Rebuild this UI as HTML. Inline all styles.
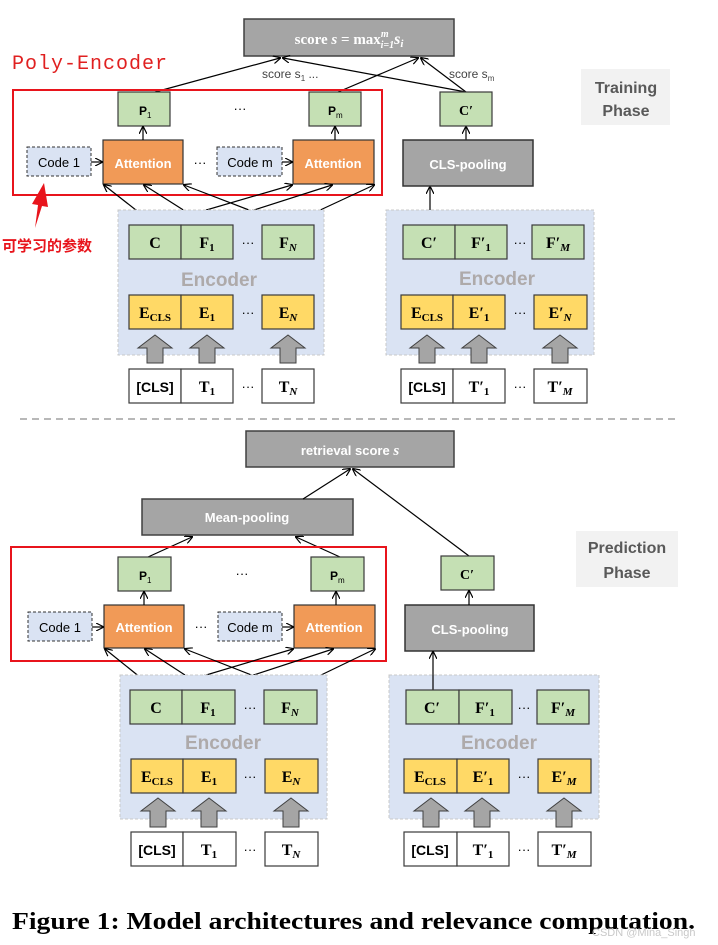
<!DOCTYPE html>
<html><head><meta charset="utf-8"><style>
html,body{margin:0;padding:0;background:#fff}
svg{display:block}
.b{font-family:"Liberation Sans",sans-serif;font-weight:bold}
.s{font-family:"Liberation Serif",serif;font-weight:bold}
</style></head><body>
<svg width="718" height="945" viewBox="0 0 718 945" xmlns="http://www.w3.org/2000/svg">
<defs>
<marker id="a" markerWidth="8" markerHeight="8" refX="7" refY="4" orient="auto" markerUnits="userSpaceOnUse"><path d="M0,0 L8,4 L0,8" fill="none" stroke="#000" stroke-width="1.2"/></marker>
</defs>

<!-- ===== TOP ===== -->
<rect x="244" y="19" width="210" height="37" fill="#a5a5a5" stroke="#404040" stroke-width="1.5"/>
<text x="349" y="44" text-anchor="middle" fill="#fff" class="s" font-size="15">score <tspan font-style="italic">s</tspan> = max<tspan font-size="10" dy="-7" font-style="italic">m</tspan><tspan font-size="10" dx="-8" dy="11" font-style="italic">i=1</tspan><tspan dy="-4" font-style="italic" font-size="16">s<tspan font-size="11" dy="3">i</tspan></tspan></text>
<text x="12" y="69" fill="#e02020" font-family="Liberation Mono,monospace" font-size="20" letter-spacing="1">Poly-Encoder</text>
<text x="262" y="78" font-family="Liberation Sans,sans-serif" font-size="12" fill="#444">score s<tspan font-size="8" dy="3">1</tspan><tspan dy="-3"> ...</tspan></text>
<text x="449" y="78" font-family="Liberation Sans,sans-serif" font-size="12" fill="#444">score s<tspan font-size="8" dy="3">m</tspan></text>
<rect x="581" y="69" width="89" height="56" fill="#f2f2f2"/>
<text x="626" y="93" text-anchor="middle" class="b" font-size="16" fill="#595959">Training</text>
<text x="626" y="116" text-anchor="middle" class="b" font-size="16" fill="#595959">Phase</text>
<g stroke="#000" stroke-width="1.2" fill="none">
<line x1="155" y1="92" x2="280" y2="58" marker-end="url(#a)"/>
<line x1="466" y1="92" x2="283" y2="58" marker-end="url(#a)"/>
<line x1="338" y1="92" x2="418" y2="58" marker-end="url(#a)"/>
<line x1="466" y1="92" x2="421" y2="58" marker-end="url(#a)"/>
<line x1="466" y1="140" x2="466" y2="127" marker-end="url(#a)"/>
<line x1="430" y1="225" x2="430" y2="187" marker-end="url(#a)"/>
</g>
<!-- red arrow + cjk -->
<polygon points="35,228 38,205 32,204 44,183 48,207 42,206" fill="#e8141c"/>
<text x="2" y="251" fill="#e8141c" font-family="Liberation Sans,'Noto Sans CJK SC',sans-serif" font-size="15" font-weight="bold">可学习的参数</text>

<g id="left">
<rect x="13" y="90" width="369" height="105" fill="none" stroke="#e8141c" stroke-width="2"/>
<rect x="118" y="92" width="52" height="34" fill="#c5e0b4" stroke="#3a3a3a" stroke-width="1.2"/>
<text x="139" y="115" class="b" font-size="12">P<tspan font-size="8" dy="3" font-weight="normal">1</tspan></text>
<rect x="309" y="92" width="52" height="34" fill="#c5e0b4" stroke="#3a3a3a" stroke-width="1.2"/>
<text x="328" y="115" class="b" font-size="12">P<tspan font-size="8" dy="3" font-weight="normal">m</tspan></text>
<text x="240" y="113" text-anchor="middle" font-size="13" font-family="Liberation Sans,sans-serif">···</text>
<rect x="27" y="147" width="64" height="29" fill="#dae3f3" stroke="#333" stroke-dasharray="3,2"/>
<text x="59" y="167" text-anchor="middle" font-family="Liberation Sans,sans-serif" font-size="13">Code 1</text>
<rect x="217" y="147" width="65" height="29" fill="#dae3f3" stroke="#333" stroke-dasharray="3,2"/>
<text x="250" y="167" text-anchor="middle" font-family="Liberation Sans,sans-serif" font-size="13">Code m</text>
<rect x="103" y="140" width="80" height="44" fill="#f19a57" stroke="#333" stroke-width="1.2"/>
<text x="143" y="168" text-anchor="middle" class="b" font-size="13" fill="#fff">Attention</text>
<rect x="293" y="140" width="81" height="44" fill="#f19a57" stroke="#333" stroke-width="1.2"/>
<text x="333" y="168" text-anchor="middle" class="b" font-size="13" fill="#fff">Attention</text>
<text x="200" y="167" text-anchor="middle" font-size="13" font-family="Liberation Sans,sans-serif">···</text>
<g stroke="#000" stroke-width="1.2" fill="none">
<line x1="91" y1="162" x2="102" y2="162" marker-end="url(#a)"/>
<line x1="282" y1="162" x2="292" y2="162" marker-end="url(#a)"/>
<line x1="143" y1="140" x2="143" y2="127" marker-end="url(#a)"/>
<line x1="335" y1="140" x2="335" y2="127" marker-end="url(#a)"/>
<line x1="155" y1="225" x2="104" y2="185" marker-end="url(#a)"/>
<line x1="207" y1="225" x2="144" y2="185" marker-end="url(#a)"/>
<line x1="288" y1="225" x2="184" y2="185" marker-end="url(#a)"/>
<line x1="155" y1="225" x2="292" y2="185" marker-end="url(#a)"/>
<line x1="207" y1="225" x2="332" y2="185" marker-end="url(#a)"/>
<line x1="288" y1="225" x2="374" y2="185" marker-end="url(#a)"/>
</g>
<rect x="118" y="210" width="206" height="145" fill="#dae3f3" stroke="#c8c8c8" stroke-dasharray="3,2"/>
<g stroke="#3a3a3a" stroke-width="1.2">
<rect x="129" y="225" width="52" height="34" fill="#c5e0b4"/><rect x="181" y="225" width="52" height="34" fill="#c5e0b4"/><rect x="262" y="225" width="52" height="34" fill="#c5e0b4"/>
<rect x="129" y="295" width="52" height="34" fill="#ffd966"/><rect x="181" y="295" width="52" height="34" fill="#ffd966"/><rect x="262" y="295" width="52" height="34" fill="#ffd966"/>
<rect x="129" y="369" width="52" height="34" fill="#fff"/><rect x="181" y="369" width="52" height="34" fill="#fff"/><rect x="262" y="369" width="52" height="34" fill="#fff"/>
</g>
<g fill="#a5a5a5" stroke="#404040">
<polygon points="155,335 172,348 163,348 163,363 147,363 147,348 138,348"/>
<polygon points="207,335 224,348 215,348 215,363 199,363 199,348 190,348"/>
<polygon points="288,335 305,348 296,348 296,363 280,363 280,348 271,348"/>
</g>
<text x="219" y="286" text-anchor="middle" class="b" font-size="19" fill="#aeaaaa">Encoder</text>
<g class="s" font-size="16" text-anchor="middle">
<text x="155" y="248">C</text>
<text x="207" y="248">F<tspan font-size="11" dy="3">1</tspan></text>
<text x="288" y="248">F<tspan font-size="11" dy="3" font-style="italic">N</tspan></text>
<text x="155" y="318">E<tspan font-size="11" dy="3">CLS</tspan></text>
<text x="207" y="318">E<tspan font-size="11" dy="3">1</tspan></text>
<text x="288" y="318">E<tspan font-size="11" dy="3" font-style="italic">N</tspan></text>
<text x="155" y="392" font-family="Liberation Sans,sans-serif" font-size="14">[CLS]</text>
<text x="207" y="392">T<tspan font-size="11" dy="3">1</tspan></text>
<text x="288" y="392">T<tspan font-size="11" dy="3" font-style="italic">N</tspan></text>
</g>
<g font-size="13" font-family="Liberation Sans,sans-serif" text-anchor="middle">
<text x="248" y="247">···</text><text x="248" y="317">···</text><text x="248" y="391">···</text>
</g>
</g>

<g id="right">
<rect x="386" y="210" width="208" height="145" fill="#dae3f3" stroke="#c8c8c8" stroke-dasharray="3,2"/>
<rect x="440" y="92" width="52" height="34" fill="#c5e0b4" stroke="#3a3a3a" stroke-width="1.2"/>
<text x="466" y="115" text-anchor="middle" class="s" font-size="14">C′</text>
<rect x="403" y="140" width="130" height="46" fill="#a5a5a5" stroke="#333" stroke-width="1.5"/>
<text x="468" y="169" text-anchor="middle" class="b" font-size="13" fill="#fff">CLS-pooling</text>
<g stroke="#3a3a3a" stroke-width="1.2">
<rect x="403" y="225" width="52" height="34" fill="#c5e0b4"/><rect x="455" y="225" width="52" height="34" fill="#c5e0b4"/><rect x="532" y="225" width="52" height="34" fill="#c5e0b4"/>
<rect x="401" y="295" width="52" height="34" fill="#ffd966"/><rect x="453" y="295" width="52" height="34" fill="#ffd966"/><rect x="534" y="295" width="53" height="34" fill="#ffd966"/>
<rect x="401" y="369" width="52" height="34" fill="#fff"/><rect x="453" y="369" width="52" height="34" fill="#fff"/><rect x="534" y="369" width="53" height="34" fill="#fff"/>
</g>
<g fill="#a5a5a5" stroke="#404040">
<polygon points="427,335 444,348 435,348 435,363 419,363 419,348 410,348"/>
<polygon points="479,335 496,348 487,348 487,363 471,363 471,348 462,348"/>
<polygon points="560,335 577,348 568,348 568,363 552,363 552,348 543,348"/>
</g>
<text x="497" y="285" text-anchor="middle" class="b" font-size="19" fill="#aeaaaa">Encoder</text>
<g class="s" font-size="16" text-anchor="middle">
<text x="429" y="248">C′</text>
<text x="481" y="248">F′<tspan font-size="11" dy="3">1</tspan></text>
<text x="558" y="248">F′<tspan font-size="11" dy="3" font-style="italic">M</tspan></text>
<text x="427" y="318">E<tspan font-size="11" dy="3">CLS</tspan></text>
<text x="479" y="318">E′<tspan font-size="11" dy="3">1</tspan></text>
<text x="560" y="318">E′<tspan font-size="11" dy="3" font-style="italic">N</tspan></text>
<text x="427" y="392" font-family="Liberation Sans,sans-serif" font-size="14">[CLS]</text>
<text x="479" y="392">T′<tspan font-size="11" dy="3">1</tspan></text>
<text x="560" y="392">T′<tspan font-size="11" dy="3" font-style="italic">M</tspan></text>
</g>
<g font-size="13" font-family="Liberation Sans,sans-serif" text-anchor="middle">
<text x="520" y="247">···</text><text x="520" y="317">···</text><text x="520" y="391">···</text>
</g>
</g>

<line x1="20" y1="419" x2="680" y2="419" stroke="#a0a0a0" stroke-width="1.5" stroke-dasharray="7,5"/>

<!-- ===== BOTTOM ===== -->
<rect x="246" y="431" width="208" height="36" fill="#a5a5a5" stroke="#404040" stroke-width="1.5"/>
<text x="350" y="455" text-anchor="middle" class="b" font-size="13" fill="#fff">retrieval score <tspan class="s" font-style="italic" font-size="15">s</tspan></text>
<rect x="142" y="499" width="211" height="36" fill="#a5a5a5" stroke="#404040" stroke-width="1.5"/>
<text x="247" y="522" text-anchor="middle" class="b" font-size="13" fill="#fff">Mean-pooling</text>
<rect x="576" y="531" width="102" height="56" fill="#f2f2f2"/>
<text x="627" y="553" text-anchor="middle" class="b" font-size="16" fill="#595959">Prediction</text>
<text x="627" y="578" text-anchor="middle" class="b" font-size="16" fill="#595959">Phase</text>
<g stroke="#000" stroke-width="1.2" fill="none">
<line x1="148" y1="557" x2="192" y2="537" marker-end="url(#a)"/>
<line x1="340" y1="557" x2="296" y2="537" marker-end="url(#a)"/>
<line x1="303" y1="499" x2="350" y2="469" marker-end="url(#a)"/>
<line x1="469" y1="556" x2="353" y2="469" marker-end="url(#a)"/>
</g>

<g transform="translate(-2,465)">
<rect x="13" y="82" width="375" height="114" fill="none" stroke="#e8141c" stroke-width="2"/>
<rect x="120" y="92" width="53" height="34" fill="#c5e0b4" stroke="#3a3a3a" stroke-width="1.2"/>
<text x="141" y="115" class="b" font-size="12">P<tspan font-size="8" dy="3" font-weight="normal">1</tspan></text>
<rect x="313" y="92" width="53" height="34" fill="#c5e0b4" stroke="#3a3a3a" stroke-width="1.2"/>
<text x="332" y="115" class="b" font-size="12">P<tspan font-size="8" dy="3" font-weight="normal">m</tspan></text>
<text x="244" y="113" text-anchor="middle" font-size="13" font-family="Liberation Sans,sans-serif">···</text>
<rect x="30" y="147" width="64" height="29" fill="#dae3f3" stroke="#333" stroke-dasharray="3,2"/>
<text x="62" y="167" text-anchor="middle" font-family="Liberation Sans,sans-serif" font-size="13">Code 1</text>
<rect x="220" y="147" width="64" height="29" fill="#dae3f3" stroke="#333" stroke-dasharray="3,2"/>
<text x="252" y="167" text-anchor="middle" font-family="Liberation Sans,sans-serif" font-size="13">Code m</text>
<rect x="106" y="140" width="80" height="43" fill="#f19a57" stroke="#333" stroke-width="1.2"/>
<text x="146" y="167" text-anchor="middle" class="b" font-size="13" fill="#fff">Attention</text>
<rect x="296" y="140" width="81" height="43" fill="#f19a57" stroke="#333" stroke-width="1.2"/>
<text x="336" y="167" text-anchor="middle" class="b" font-size="13" fill="#fff">Attention</text>
<text x="203" y="166" text-anchor="middle" font-size="13" font-family="Liberation Sans,sans-serif">···</text>
<g stroke="#000" stroke-width="1.2" fill="none">
<line x1="94" y1="162" x2="105" y2="162" marker-end="url(#a)"/>
<line x1="284" y1="162" x2="295" y2="162" marker-end="url(#a)"/>
<line x1="146" y1="140" x2="146" y2="127" marker-end="url(#a)"/>
<line x1="338" y1="140" x2="338" y2="127" marker-end="url(#a)"/>
<line x1="158" y1="225" x2="107" y2="184" marker-end="url(#a)"/>
<line x1="210" y1="225" x2="147" y2="184" marker-end="url(#a)"/>
<line x1="292" y1="225" x2="187" y2="184" marker-end="url(#a)"/>
<line x1="158" y1="225" x2="295" y2="184" marker-end="url(#a)"/>
<line x1="210" y1="225" x2="335" y2="184" marker-end="url(#a)"/>
<line x1="292" y1="225" x2="377" y2="184" marker-end="url(#a)"/>
</g>
<rect x="122" y="210" width="207" height="144" fill="#dae3f3" stroke="#c8c8c8" stroke-dasharray="3,2"/>
<g stroke="#3a3a3a" stroke-width="1.2">
<rect x="132" y="225" width="52" height="34" fill="#c5e0b4"/><rect x="184" y="225" width="53" height="34" fill="#c5e0b4"/><rect x="266" y="225" width="53" height="34" fill="#c5e0b4"/>
<rect x="133" y="294" width="52" height="34" fill="#ffd966"/><rect x="185" y="294" width="53" height="34" fill="#ffd966"/><rect x="267" y="294" width="53" height="34" fill="#ffd966"/>
<rect x="133" y="367" width="52" height="34" fill="#fff"/><rect x="185" y="367" width="53" height="34" fill="#fff"/><rect x="267" y="367" width="53" height="34" fill="#fff"/>
</g>
<g fill="#a5a5a5" stroke="#404040">
<polygon points="160,333 177,346 168,346 168,362 152,362 152,346 143,346"/>
<polygon points="211,333 228,346 219,346 219,362 203,362 203,346 194,346"/>
<polygon points="293,333 310,346 301,346 301,362 285,362 285,346 276,346"/>
</g>
<text x="225" y="284" text-anchor="middle" class="b" font-size="19" fill="#aeaaaa">Encoder</text>
<g class="s" font-size="16" text-anchor="middle">
<text x="158" y="248">C</text>
<text x="210" y="248">F<tspan font-size="11" dy="3">1</tspan></text>
<text x="292" y="248">F<tspan font-size="11" dy="3" font-style="italic">N</tspan></text>
<text x="159" y="317">E<tspan font-size="11" dy="3">CLS</tspan></text>
<text x="211" y="317">E<tspan font-size="11" dy="3">1</tspan></text>
<text x="293" y="317">E<tspan font-size="11" dy="3" font-style="italic">N</tspan></text>
<text x="159" y="390" font-family="Liberation Sans,sans-serif" font-size="14">[CLS]</text>
<text x="211" y="390">T<tspan font-size="11" dy="3">1</tspan></text>
<text x="293" y="390">T<tspan font-size="11" dy="3" font-style="italic">N</tspan></text>
</g>
<g font-size="13" font-family="Liberation Sans,sans-serif" text-anchor="middle">
<text x="252" y="247">···</text><text x="252" y="316">···</text><text x="252" y="389">···</text>
</g>
</g>

<g transform="translate(0,465)">
<rect x="389" y="210" width="210" height="144" fill="#dae3f3" stroke="#c8c8c8" stroke-dasharray="3,2"/>
<rect x="441" y="91" width="53" height="34" fill="#c5e0b4" stroke="#3a3a3a" stroke-width="1.2"/>
<text x="467" y="114" text-anchor="middle" class="s" font-size="14">C′</text>
<rect x="405" y="140" width="129" height="46" fill="#a5a5a5" stroke="#333" stroke-width="1.5"/>
<text x="470" y="169" text-anchor="middle" class="b" font-size="13" fill="#fff">CLS-pooling</text>
<g stroke="#000" stroke-width="1.2" fill="none">
<line x1="469" y1="140" x2="469" y2="126" marker-end="url(#a)"/>
<line x1="433" y1="225" x2="433" y2="187" marker-end="url(#a)"/>
</g>
<g stroke="#3a3a3a" stroke-width="1.2">
<rect x="406" y="225" width="53" height="34" fill="#c5e0b4"/><rect x="459" y="225" width="53" height="34" fill="#c5e0b4"/><rect x="537" y="225" width="52" height="34" fill="#c5e0b4"/>
<rect x="404" y="294" width="53" height="34" fill="#ffd966"/><rect x="457" y="294" width="52" height="34" fill="#ffd966"/><rect x="538" y="294" width="53" height="34" fill="#ffd966"/>
<rect x="404" y="367" width="53" height="34" fill="#fff"/><rect x="457" y="367" width="52" height="34" fill="#fff"/><rect x="538" y="367" width="53" height="34" fill="#fff"/>
</g>
<g fill="#a5a5a5" stroke="#404040">
<polygon points="431,333 448,346 439,346 439,362 423,362 423,346 414,346"/>
<polygon points="482,333 499,346 490,346 490,362 474,362 474,346 465,346"/>
<polygon points="564,333 581,346 572,346 572,362 556,362 556,346 547,346"/>
</g>
<text x="499" y="284" text-anchor="middle" class="b" font-size="19" fill="#aeaaaa">Encoder</text>
<g class="s" font-size="16" text-anchor="middle">
<text x="432" y="248">C′</text>
<text x="485" y="248">F′<tspan font-size="11" dy="3">1</tspan></text>
<text x="563" y="248">F′<tspan font-size="11" dy="3" font-style="italic">M</tspan></text>
<text x="430" y="317">E<tspan font-size="11" dy="3">CLS</tspan></text>
<text x="483" y="317">E′<tspan font-size="11" dy="3">1</tspan></text>
<text x="564" y="317">E′<tspan font-size="11" dy="3" font-style="italic">M</tspan></text>
<text x="430" y="390" font-family="Liberation Sans,sans-serif" font-size="14">[CLS]</text>
<text x="483" y="390">T′<tspan font-size="11" dy="3">1</tspan></text>
<text x="564" y="390">T′<tspan font-size="11" dy="3" font-style="italic">M</tspan></text>
</g>
<g font-size="13" font-family="Liberation Sans,sans-serif" text-anchor="middle">
<text x="524" y="247">···</text><text x="524" y="316">···</text><text x="524" y="389">···</text>
</g>
</g>

<text x="12" y="929" class="s" font-size="24" textLength="683" lengthAdjust="spacingAndGlyphs">Figure 1: Model architectures and relevance computation.</text>
<text x="592" y="936" font-family="Liberation Sans,sans-serif" font-size="11" fill="#c8c8c8">CSDN @Mina_Singh</text>
</svg>
</body></html>
